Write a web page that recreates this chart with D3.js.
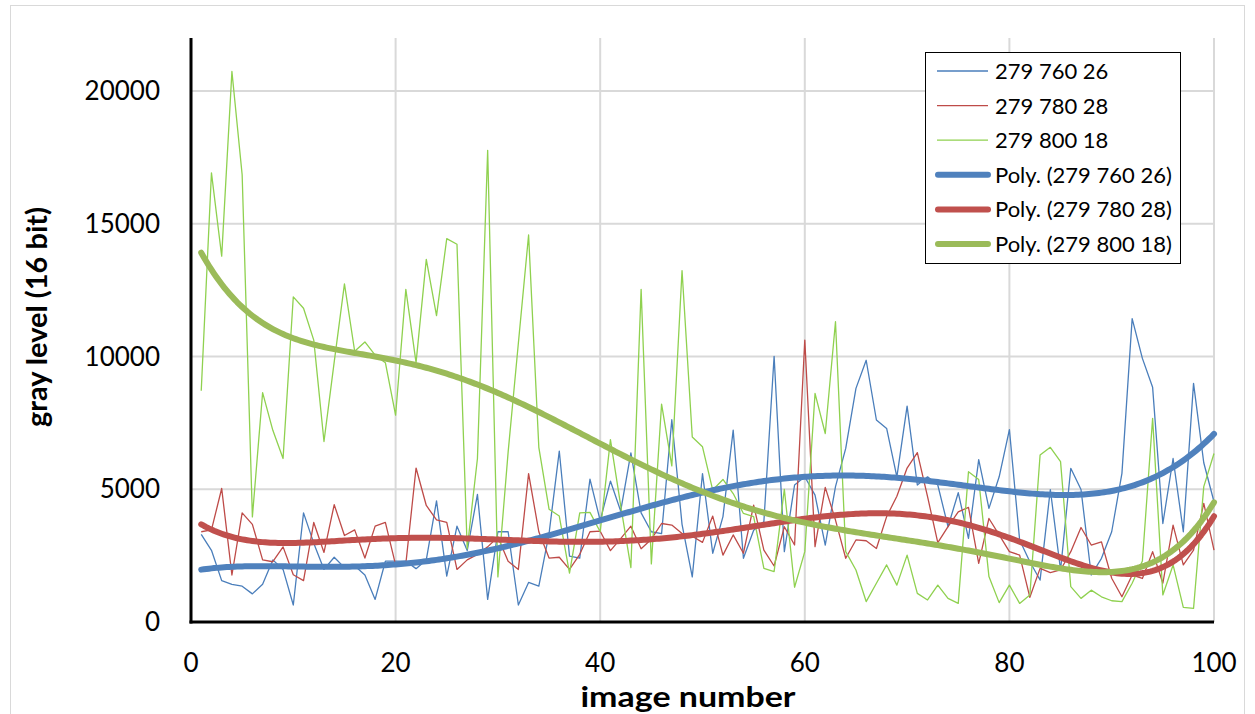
<!DOCTYPE html>
<html><head><meta charset="utf-8">
<script src="https://cdn.jsdelivr.net/npm/d3@7"></script>
<style>body{margin:0;background:#fff;}svg{display:block;}</style>
</head><body><svg id="c" width="1255" height="714"></svg>
<script>
const imageNumbers = d3.range(1, 101);
const series1Name = "279 760 26";
const series2Name = "279 780 28";
const series3Name = "279 800 18";
const series1 = [3300,2700,1560,1420,1350,1060,1420,2340,1980,640,
4110,2970,1980,2440,2050,2120,1770,850,2290,2290,
2290,2010,2340,4560,1730,3610,2690,4810,850,3400,
3400,640,1490,1350,3330,6440,2480,2410,5380,3820,
5310,4180,6370,4110,3400,3330,7620,3680,1700,5590,
2590,3970,7230,2400,3460,3780,10010,2650,5160,5470,
4780,2900,5100,6540,8800,9860,7610,7290,5470,8130,
5160,5470,5160,3590,4870,3150,6120,4280,5470,7250,
3090,2270,1580,4990,1960,5790,4990,1770,2400,3400,
5600,11430,9930,8840,3710,6160,3400,8990,6000,4530];
const series2 = [3400,3470,5030,1770,4110,3680,2340,2270,2830,1780,
1560,3750,2620,4420,3260,3470,2410,3610,3750,2150,
2190,5800,4390,3850,3750,1980,2340,2550,2830,3200,
2290,1980,5590,3400,2410,2440,1980,2550,3400,3420,
2690,3140,3610,2760,3120,3710,3650,3330,3230,3000,
3990,2520,3280,2590,4400,2710,2110,3590,2900,10620,
2840,5070,3840,2400,3090,3060,2770,3970,4740,5800,
6380,4720,2990,3590,4150,4320,2210,3900,3280,2650,
2520,930,2020,1860,1960,2650,3560,2900,3020,1650,
950,1770,1640,2650,1460,3650,2150,2710,4470,2710];
const series3 = [8710,16920,13780,20740,16850,3960,8640,7220,6160,12250,
11820,10620,6800,9800,12740,10200,10550,10050,9770,7790,
12530,9770,13660,11540,14440,14230,2760,6160,17770,1700,
6400,10500,14580,6580,4250,3990,1840,4110,4130,3400,
6870,4390,2050,12530,2190,8210,5880,13240,6970,6600,
4970,5370,4840,4090,3970,2020,1900,5000,1310,2650,
8610,7100,11310,2650,1960,770,1460,2150,1390,2520,
1080,830,1390,890,700,5660,5370,1710,730,1390,
700,1020,6290,6580,6040,1330,890,1200,950,800,
770,1460,2300,7670,1020,2150,550,510,5100,6350];
const xTicks = [0,20,40,60,80,100];
const yTicks = [0,5000,10000,15000,20000];
const xTitle = "image number";
const yTitle = "gray level (16 bit)";

const W = 1255, H = 714;
const m = {left:191, right:1214, top:38, bottom:622};
const svg = d3.select("#c");
const x = d3.scaleLinear().domain([0,100]).range([m.left, m.right]);
const y = d3.scaleLinear().domain([0,22000]).range([m.bottom, m.top]);
const FONT = "Lato, 'Open Sans', sans-serif";

// chart area border
svg.append("rect").attr("x",10.5).attr("y",5.5).attr("width",1234).attr("height",730)
  .attr("fill","#fff").attr("stroke","#d9d9d9").attr("stroke-width",1);

// gridlines
const g = svg.append("g");
g.selectAll(".hg").data(yTicks.filter(d=>d>0)).join("line")
  .attr("x1",m.left).attr("x2",m.right).attr("y1",d=>y(d)).attr("y2",d=>y(d))
  .attr("stroke","#d9d9d9").attr("stroke-width",2);
g.selectAll(".vg").data(xTicks.filter(d=>d>0)).join("line")
  .attr("x1",d=>x(d)).attr("x2",d=>x(d)).attr("y1",m.top).attr("y2",m.bottom)
  .attr("stroke","#d9d9d9").attr("stroke-width",2);

// polynomial fit (order 6), as a spreadsheet trendline
function polyfit(xs, ys, order){
  const n = order+1;
  const c = 50.5, s = 49.5;
  const A = Array.from({length:n},()=>new Array(n).fill(0));
  const b = new Array(n).fill(0);
  xs.forEach((xv,k)=>{
    const t=(xv-c)/s; const p=[]; let v=1;
    for(let i=0;i<n;i++){p.push(v); v*=t;}
    for(let i=0;i<n;i++){ b[i]+=p[i]*ys[k]; for(let j=0;j<n;j++) A[i][j]+=p[i]*p[j]; }
  });
  for(let i=0;i<n;i++){
    let mx=i; for(let r=i+1;r<n;r++) if(Math.abs(A[r][i])>Math.abs(A[mx][i])) mx=r;
    [A[i],A[mx]]=[A[mx],A[i]]; [b[i],b[mx]]=[b[mx],b[i]];
    for(let r=i+1;r<n;r++){const f=A[r][i]/A[i][i]; for(let j=i;j<n;j++) A[r][j]-=f*A[i][j]; b[r]-=f*b[i];}
  }
  const co=new Array(n).fill(0);
  for(let i=n-1;i>=0;i--){let sm=b[i]; for(let j=i+1;j<n;j++) sm-=A[i][j]*co[j]; co[i]=sm/A[i][i];}
  return xv=>{const t=(xv-c)/s; let v=0; for(let i=n-1;i>=0;i--) v=v*t+co[i]; return v;};
}

const thin = [
  {name:series1Name, data:series1, color:"#4a7ebb"},
  {name:series2Name, data:series2, color:"#be4b48"},
  {name:series3Name, data:series3, color:"#8fd14f"}
];
const trendColors = ["#4f81bd","#c0504d","#9bbb59"];

const line = d3.line().x(d=>x(d[0])).y(d=>y(d[1]));
const plot = svg.append("g");
thin.forEach(s=>{
  plot.append("path").attr("d", line(imageNumbers.map((n,i)=>[n,s.data[i]])))
    .attr("fill","none").attr("stroke",s.color).attr("stroke-width",1.3).attr("stroke-linejoin","round");
});
const fine = d3.range(1, 100.001, 0.25);
thin.forEach((s,k)=>{
  const f = polyfit(imageNumbers, s.data, 6);
  plot.append("path").attr("d", line(fine.map(v=>[v,f(v)])))
    .attr("fill","none").attr("stroke",trendColors[k]).attr("stroke-width",6)
    .attr("stroke-linecap","round").attr("stroke-linejoin","round");
});

// axes lines
svg.append("line").attr("x1",m.left).attr("x2",m.left).attr("y1",m.top).attr("y2",m.bottom+1.5)
  .attr("stroke","#000").attr("stroke-width",3);
svg.append("line").attr("x1",m.left-1.5).attr("x2",m.right).attr("y1",m.bottom).attr("y2",m.bottom)
  .attr("stroke","#000").attr("stroke-width",3);

// tick labels
svg.selectAll(".yl").data(yTicks).join("text")
  .attr("x",160).attr("y",d=>y(d)+9).attr("text-anchor","end")
  .attr("font-family",FONT).attr("font-size",26).attr("fill","#000").text(d=>d);
svg.selectAll(".xl").data(xTicks).join("text")
  .attr("x",d=>x(d)).attr("y",672).attr("text-anchor","middle")
  .attr("font-family",FONT).attr("font-size",26).attr("fill","#000").text(d=>d);

svg.append("text").attr("x",688).attr("y",707).attr("text-anchor","middle")
  .attr("font-family",FONT).attr("font-weight","bold").attr("font-size",29)
  .attr("textLength",215).attr("lengthAdjust","spacingAndGlyphs").text(xTitle);
svg.append("text").attr("transform","translate(47,317) rotate(-90)").attr("text-anchor","middle")
  .attr("font-family",FONT).attr("font-weight","bold").attr("font-size",29).text(yTitle);

// legend
const lg = svg.append("g");
lg.append("rect").attr("x",925.5).attr("y",52.5).attr("width",255).attr("height",211)
  .attr("fill","#fff").attr("stroke","#000").attr("stroke-width",1);
const items = thin.map(s=>({name:s.name,color:s.color,w:1.3}))
  .concat(thin.map((s,k)=>({name:"Poly. ("+s.name+")",color:trendColors[k],w:6})));
items.forEach((it,i)=>{
  const yy = 71 + i*34.6;
  lg.append("line").attr("x1",it.w>2?938:937).attr("x2",988).attr("y1",yy).attr("y2",yy)
    .attr("stroke",it.color).attr("stroke-width",it.w).attr("stroke-linecap",it.w>2?"round":"butt");
  lg.append("text").attr("x",995).attr("y",yy+8).attr("font-family",FONT).attr("font-size",22)
    .attr("fill","#000").text(it.name);
});
</script></body></html>
